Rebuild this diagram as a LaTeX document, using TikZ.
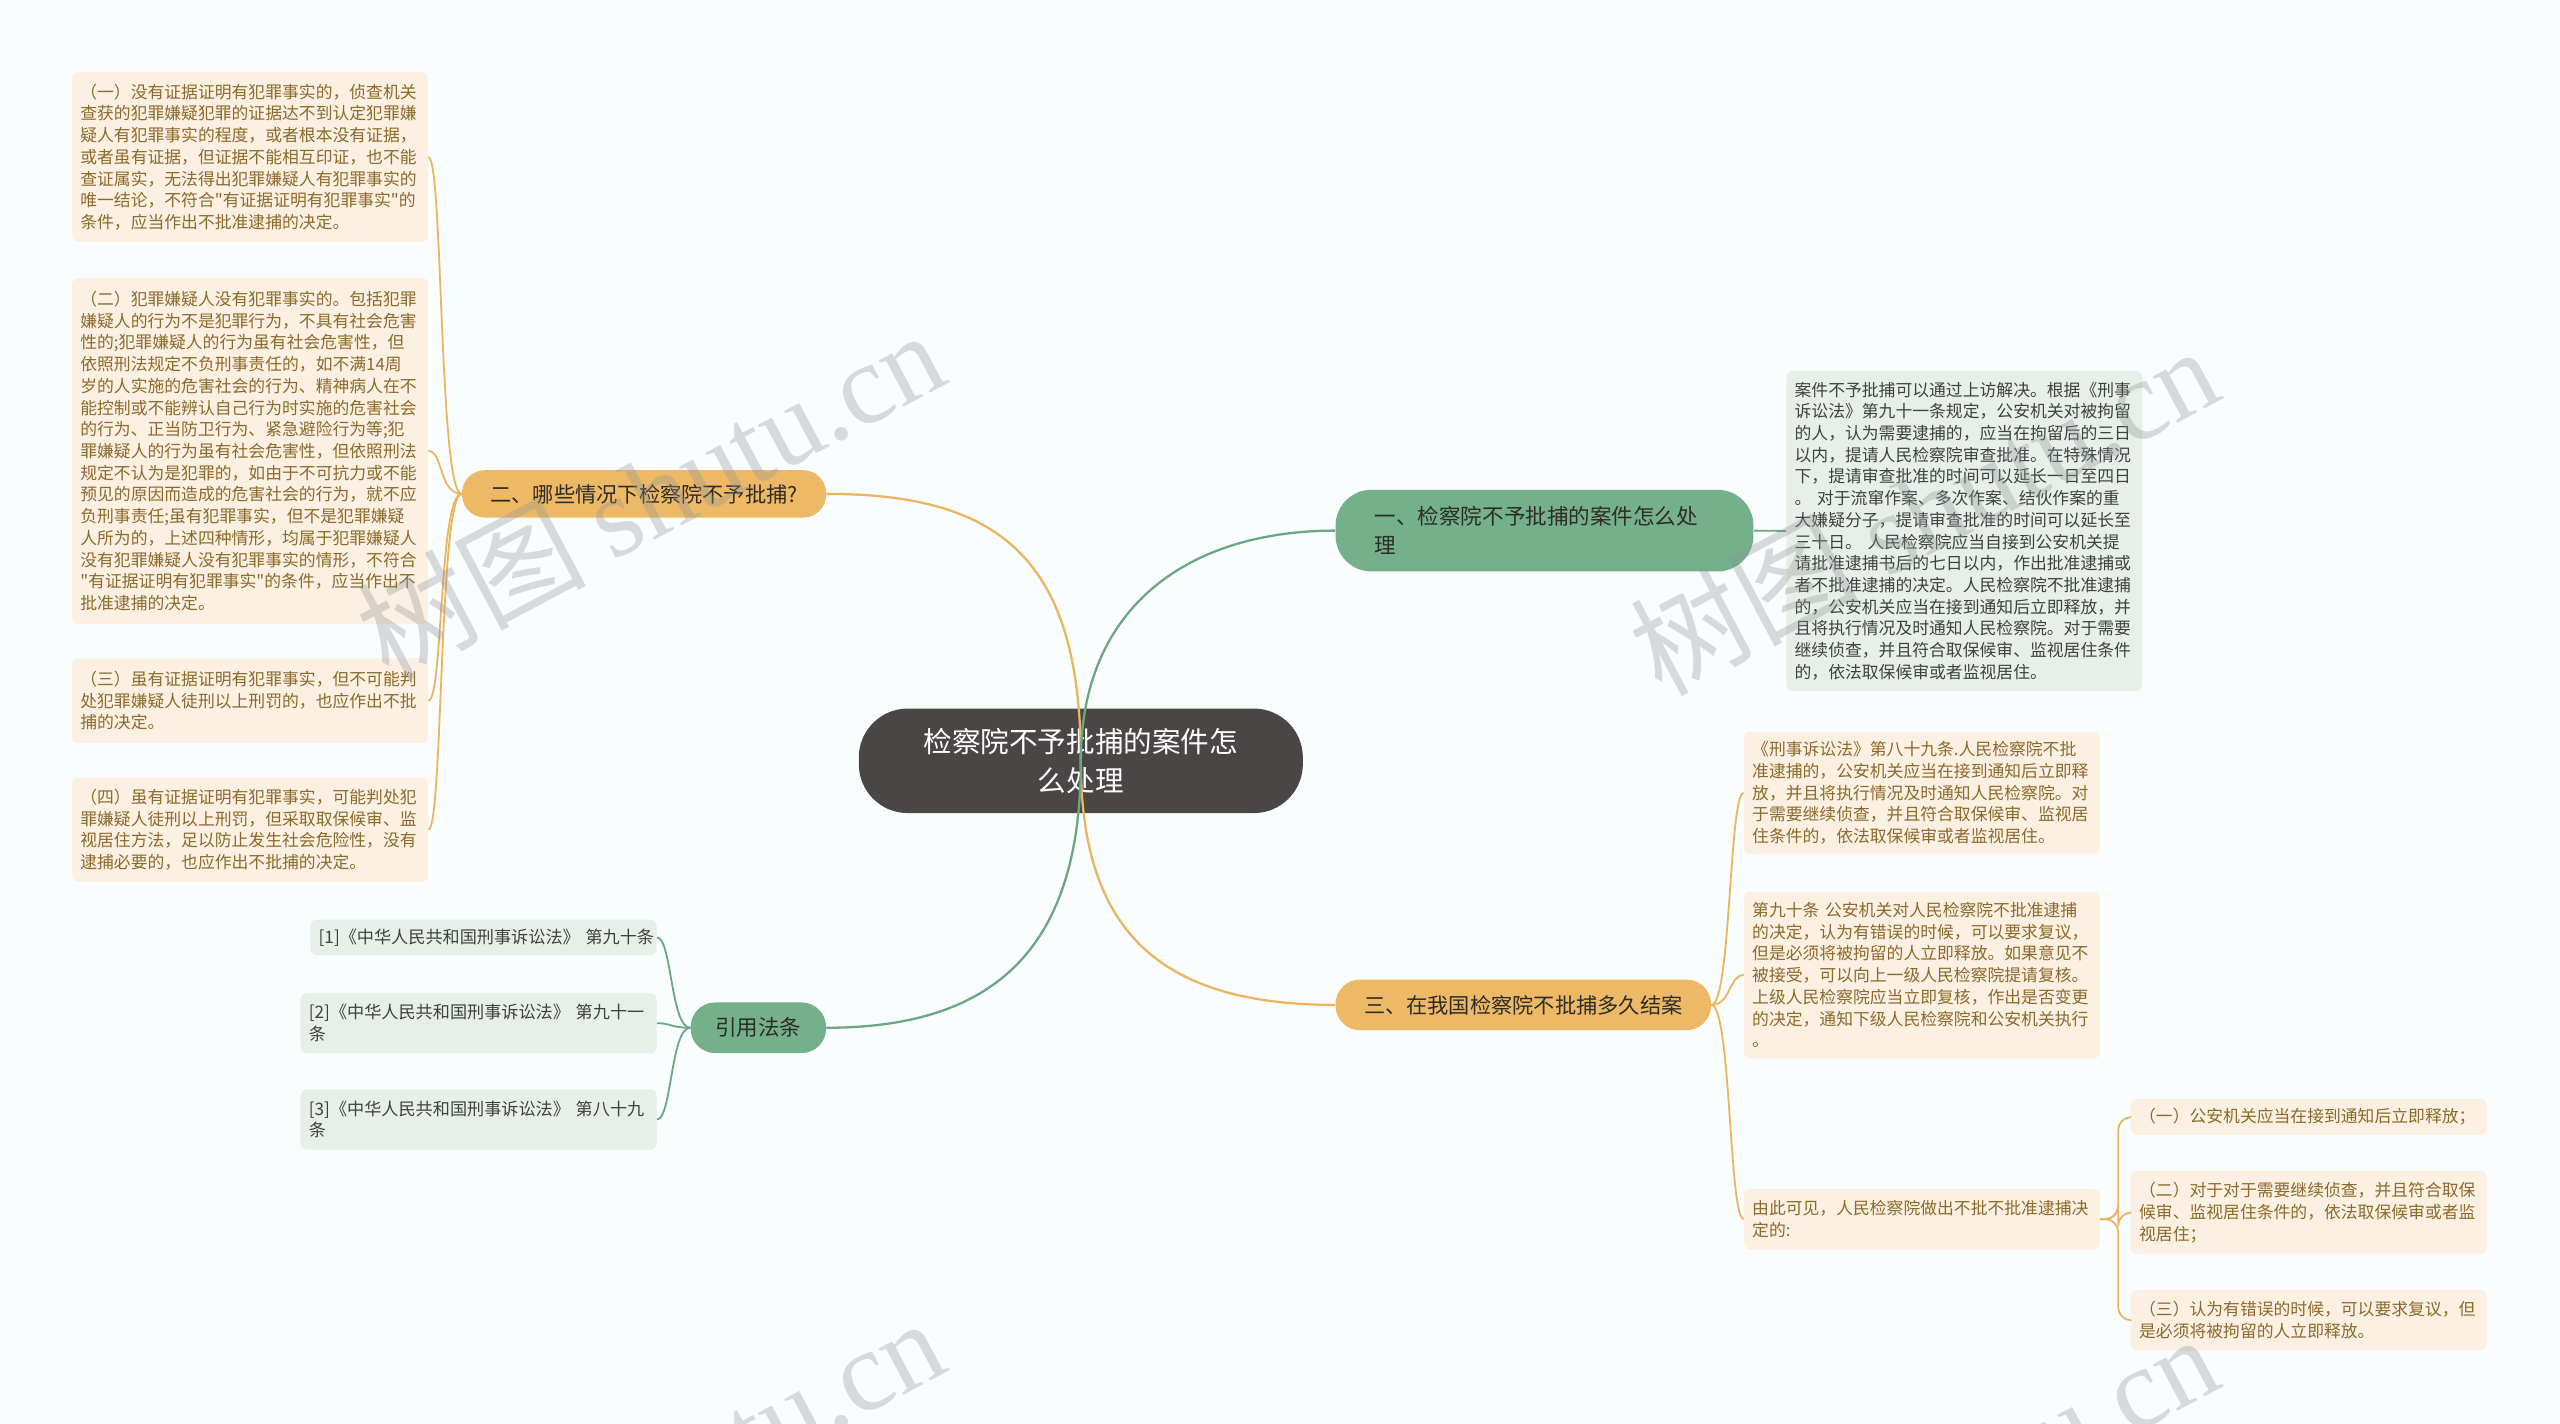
\documentclass[tikz,border=0pt]{standalone}
\usepackage{fontspec}
\setmainfont{Noto Sans CJK SC}[Ligatures=TeXOff]
\newfontfamily\wmfont{Liberation Serif}
\newlength{\du}
\setlength{\du}{1pt}
\definecolor{bgcolor}{rgb}{0.976471, 0.992157, 0.992157}
\definecolor{topiccolor}{rgb}{0.294118, 0.274510, 0.274510}
\definecolor{orangecolor}{rgb}{0.929412, 0.725490, 0.400000}
\definecolor{greencolor}{rgb}{0.454902, 0.690196, 0.541176}
\definecolor{orangeleaf}{rgb}{0.988235, 0.941176, 0.886275}
\definecolor{greenleaf}{rgb}{0.905882, 0.941176, 0.909804}
\definecolor{orangeline}{rgb}{0.921569, 0.709804, 0.376471}
\definecolor{greenline}{rgb}{0.415686, 0.654902, 0.513725}
\definecolor{orangetext}{rgb}{0.545098, 0.415686, 0.168627}
\definecolor{greytext}{rgb}{0.250980, 0.250980, 0.250980}
\definecolor{darktext}{rgb}{0.180392, 0.172549, 0.156863}
\definecolor{wmgray}{rgb}{0.560000, 0.580000, 0.600000}
\tikzset{
  centretopic/.style={fill=topiccolor, text=white, rounded corners=30\du, minimum width=272\du,
    minimum height=64\du, text width=220\du, align=center, inner sep=0,
    font=\fontsize{17.5}{24}\selectfont},
  subo/.style={fill=orangecolor, text=darktext, inner sep=0, align=center,
    font=\fontsize{13}{18}\selectfont},
  subg/.style={fill=greencolor, text=darktext, inner sep=0, align=center,
    font=\fontsize{13.2}{18}\selectfont},
  leafo/.style={anchor=north west, fill=orangeleaf, text=orangetext, rounded corners=4\du,
    text width=208\du, inner xsep=5\du, inner ysep=0, align=left,
    font=\fontsize{10.3}{13.3}\selectfont},
  leafg/.style={leafo, fill=greenleaf, text=greytext},
  leafc/.style={leafo, fill=greenleaf, text=greytext, font=\fontsize{10.5}{13.3}\selectfont},
  lineo/.style={draw=orangeline, line width=1.1\du},
  lineg/.style={draw=greenline, line width=1.1\du},
  mainline/.style={line width=1.4\du},
  watermark/.style={rotate=28, text=wmgray, text opacity=0.33, inner sep=0,
    font=\fontsize{70}{70}\selectfont}
}

\begin{document}
\begin{tikzpicture}[x=1\du, y=-1\du]
\useasboundingbox (0,0) rectangle (1568,872);
\fill[bgcolor] (0,0) rectangle (1568,872);

% main topics
\node[centretopic] (cen) at (662,466) {检察院不予批捕的案件怎\\么处理};
\node[subo, minimum width=223\du, minimum height=29\du, rounded corners=14\du] (n2) at (394.5,302.5) {二、哪些情况下检察院不予批捕?};
\node[subg, minimum width=256\du, minimum height=50\du, rounded corners=22\du, text width=208\du, align=left] (n1) at (946,325) {一、检察院不予批捕的案件怎么处\\理};
\node[subo, minimum width=230\du, minimum height=31\du, rounded corners=15\du] (n3) at (933,615.5) {三、在我国检察院不批捕多久结案};
\node[subg, minimum width=83\du, minimum height=31\du, rounded corners=15\du] (nc) at (464.5,629.5) {引用法条};

% left leaves
\node[leafo, minimum height=104\du] (ln1) at (44,44) {（一）没有证据证明有犯罪事实的，侦查机关\\查获的犯罪嫌疑犯罪的证据达不到认定犯罪嫌\\疑人有犯罪事实的程度，或者根本没有证据，\\或者虽有证据，但证据不能相互印证，也不能\\查证属实，无法得出犯罪嫌疑人有犯罪事实的\\唯一结论，不符合"有证据证明有犯罪事实"的\\条件，应当作出不批准逮捕的决定。};
\node[leafo, minimum height=212\du] (ln2) at (44,170) {（二）犯罪嫌疑人没有犯罪事实的。包括犯罪\\嫌疑人的行为不是犯罪行为，不具有社会危害\\性的;犯罪嫌疑人的行为虽有社会危害性，但\\依照刑法规定不负刑事责任的，如不满14周\\岁的人实施的危害社会的行为、精神病人在不\\能控制或不能辨认自己行为时实施的危害社会\\的行为、正当防卫行为、紧急避险行为等;犯\\罪嫌疑人的行为虽有社会危害性，但依照刑法\\规定不认为是犯罪的，如由于不可抗力或不能\\预见的原因而造成的危害社会的行为，就不应\\负刑事责任;虽有犯罪事实，但不是犯罪嫌疑\\人所为的，上述四种情形，均属于犯罪嫌疑人\\没有犯罪嫌疑人没有犯罪事实的情形，不符合\\"有证据证明有犯罪事实"的条件，应当作出不\\批准逮捕的决定。};
\node[leafo, minimum height=52\du] (ln3) at (44,403) {（三）虽有证据证明有犯罪事实，但不可能判\\处犯罪嫌疑人徒刑以上刑罚的，也应作出不批\\捕的决定。};
\node[leafo, minimum height=64\du] (ln4) at (44,476) {（四）虽有证据证明有犯罪事实，可能判处犯\\罪嫌疑人徒刑以上刑罚，但采取取保候审、监\\视居住方法，足以防止发生社会危险性，没有\\逮捕必要的，也应作出不批捕的决定。};

% citations
\node[leafc, text width=202\du, minimum height=22\du] (cn1) at (190,563) {[1]《中华人民共和国刑事诉讼法》~第九十条};
\node[leafc, minimum height=37\du] (cn2) at (184,608) {[2]《中华人民共和国刑事诉讼法》~第九十一\\条};
\node[leafc, minimum height=37\du] (cn3) at (184,667) {[3]《中华人民共和国刑事诉讼法》~第八十九\\条};

% right leaves
\node[leafg, minimum height=196\du] (gl) at (1094,227) {案件不予批捕可以通过上访解决。根据《刑事\\诉讼法》第九十一条规定，公安机关对被拘留\\的人，认为需要逮捕的，应当在拘留后的三日\\以内，提请人民检察院审查批准。在特殊情况\\下，提请审查批准的时间可以延长一日至四日\\。~对于流窜作案、多次作案、结伙作案的重\\大嫌疑分子，提请审查批准的时间可以延长至\\三十日。~人民检察院应当自接到公安机关提\\请批准逮捕书后的七日以内，作出批准逮捕或\\者不批准逮捕的决定。人民检察院不批准逮捕\\的，公安机关应当在接到通知后立即释放，并\\且将执行情况及时通知人民检察院。对于需要\\继续侦查，并且符合取保候审、监视居住条件\\的，依法取保候审或者监视居住。};
\node[leafo, minimum height=75\du] (rn1) at (1068,448) {《刑事诉讼法》第八十九条.人民检察院不批\\准逮捕的，公安机关应当在接到通知后立即释\\放，并且将执行情况及时通知人民检察院。对\\于需要继续侦查，并且符合取保候审、监视居\\住条件的，依法取保候审或者监视居住。};
\node[leafo, minimum height=102\du] (rn2) at (1068,546) {第九十条~公安机关对人民检察院不批准逮捕\\的决定，认为有错误的时候，可以要求复议，\\但是必须将被拘留的人立即释放。如果意见不\\被接受，可以向上一级人民检察院提请复核。\\上级人民检察院应当立即复核，作出是否变更\\的决定，通知下级人民检察院和公安机关执行\\。};
\node[leafo, minimum height=37\du] (rn3) at (1068,728) {由此可见，人民检察院做出不批不批准逮捕决\\定的:};
\node[leafo, minimum height=22\du] (rn31) at (1305,673) {（一）公安机关应当在接到通知后立即释放；};
\node[leafo, minimum height=51\du] (rn32) at (1305,717) {（二）对于对于需要继续侦查，并且符合取保\\候审、监视居住条件的，依法取保候审或者监\\视居住；};
\node[leafo, minimum height=37\du] (rn33) at (1305,790) {（三）认为有错误的时候，可以要求复议，但\\是必须将被拘留的人立即释放。};

% leaf connectors
\foreach \leaf in {ln1,ln2,ln3,ln4}
  \draw[lineo] (n2.west) .. controls +(-14,0) and +(9,0) .. (\leaf.east);
\foreach \leaf in {cn1,cn2,cn3}
  \draw[lineg] (nc.west) .. controls +(-12,0) and +(9,0) .. (\leaf.east);
\foreach \leaf in {rn1,rn2,rn3}
  \draw[lineo] (n3.east) .. controls +(12,0) and +(-9,0) .. (\leaf.west);
\foreach \leaf in {rn31,rn32,rn33}
  \draw[lineo, rounded corners=8\du] (rn3.east) -- ++(11,0) |- (\leaf.west);
\draw[lineg] (n1.east) -- (gl.west);

% main connectors
\draw[lineo, mainline] (n2.east) .. controls +(104,0) and +(0,-126) .. (cen.center)
  .. controls +(0,104) and +(-108,0) .. (n3.west);
\draw[lineg, mainline] (n1.west) .. controls +(-88,0) and +(0,-96) .. (cen.center)
  .. controls +(0,114) and +(104,0) .. (nc.east);

% watermarks
\begin{scope}
\clip (0,0) rectangle (1568,872);
\node[watermark] (wm1) at (398,302) {树图 {\wmfont shutu.cn}};
\node[watermark] (wm2) at (1178,312) {树图 {\wmfont shutu.cn}};
\node[watermark] (wm3) at (398,907) {树图 {\wmfont shutu.cn}};
\node[watermark] (wm4) at (1178,917) {树图 {\wmfont shutu.cn}};
\end{scope}
\end{tikzpicture}
\end{document}
